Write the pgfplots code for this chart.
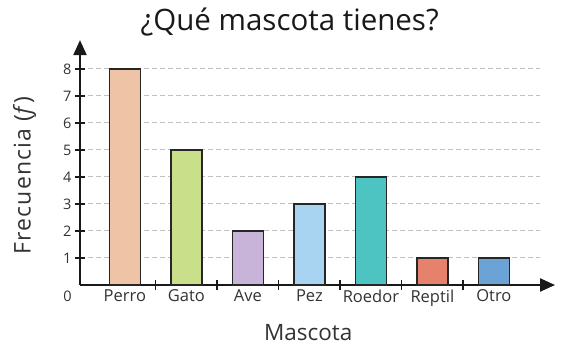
\documentclass[border=0pt]{standalone}
\usepackage{fontspec}
\setmainfont{Open Sans}
\newfontfamily\spaced[LetterSpace=5]{Open Sans}
\usepackage{pgfplots}
\pgfplotsset{compat=1.18}
\usetikzlibrary{arrows.meta}
\definecolor{cPerro}{HTML}{EFC4A6}
\definecolor{cGato}{HTML}{C9DF8A}
\definecolor{cAve}{HTML}{C8B3D9}
\definecolor{cPez}{HTML}{A8D4F2}
\definecolor{cRoedor}{HTML}{4DC4C1}
\definecolor{cReptil}{HTML}{E6826B}
\definecolor{cOtro}{HTML}{6BA3D6}
\definecolor{txt}{HTML}{333333}
\begin{document}
\begin{tikzpicture}
\path[use as bounding box] (-80pt,-65pt) rectangle (482pt,285pt);
\begin{axis}[
  anchor=origin, at={(0pt,0pt)},
  x=61.5pt, y=27pt,
  xmin=0, xmax=7.48, ymin=0, ymax=9.07,
  clip=false,
  axis lines=left,
  axis line style={line width=2.2pt, color=black!90},
  x axis line style={-{Triangle[length=15pt,width=13pt]}, shorten >=-15pt},
  y axis line style={-{Triangle[length=15pt,width=13pt]}},
  ytick={1,2,3,4,5,6,7,8},
  ytick style={line width=1.6pt, color=black!90},
  tick align=center,
  major tick length=10pt,
  ymajorgrids,
  grid style={dash pattern=on 5pt off 3pt, color=black!25, line width=1pt},
  xtick={1.23,2.23,3.23,4.23,5.23,6.23},
  xticklabels={},
  xtick style={line width=1.6pt, color=black!90},
  extra x ticks={0.73,1.73,2.73,3.73,4.73,5.73,6.73},
  extra x tick labels={Perro,Gato,Ave,Pez,Roedor,Reptil,Otro},
  extra x tick style={major tick length=0pt, grid=none},
  x tick label style={font=\fontsize{16.5}{19}\selectfont, text=txt, yshift=-1pt},
  y tick label style={font=\fontsize{14.5}{17}\selectfont, text=txt},
  /pgf/number format/assume math mode=true,
]
\addplot[ybar, bar width=31pt, bar shift=0pt, fill=cPerro, draw=black!85, line width=1.3pt] coordinates {(0.73,8)};
\addplot[ybar, bar width=31pt, bar shift=0pt, fill=cGato, draw=black!85, line width=1.3pt] coordinates {(1.73,5)};
\addplot[ybar, bar width=31pt, bar shift=0pt, fill=cAve, draw=black!85, line width=1.3pt] coordinates {(2.73,2)};
\addplot[ybar, bar width=31pt, bar shift=0pt, fill=cPez, draw=black!85, line width=1.3pt] coordinates {(3.73,3)};
\addplot[ybar, bar width=31pt, bar shift=0pt, fill=cRoedor, draw=black!85, line width=1.3pt] coordinates {(4.73,4)};
\addplot[ybar, bar width=31pt, bar shift=0pt, fill=cReptil, draw=black!85, line width=1.3pt] coordinates {(5.73,1)};
\addplot[ybar, bar width=31pt, bar shift=0pt, fill=cOtro, draw=black!85, line width=1.3pt] coordinates {(6.73,1)};
\node[anchor=north east, text=txt, inner sep=2pt] at (axis cs:-0.1,-0.15) {\fontsize{14.5}{17}\selectfont 0};
\node[rotate=90, text=txt] at (axis cs:-0.9,4.06) {\fontsize{23}{27}\spaced Frecuencia (\textit{f})};
\node[text=txt] at (axis cs:3.71,-1.78) {\fontsize{22.5}{27}\selectfont Mascota};
\node[text=black!90] at (axis cs:3.41,9.74) {\fontsize{29.5}{34}\selectfont ¿Qué mascota tienes?};
\end{axis}
\end{tikzpicture}
\end{document}
